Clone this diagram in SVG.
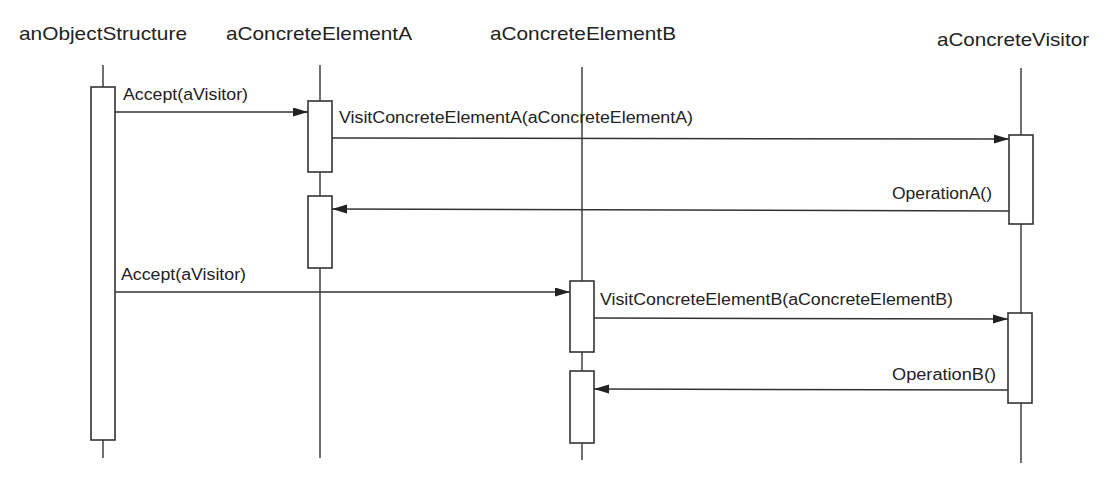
<svg xmlns="http://www.w3.org/2000/svg" width="1106" height="486" viewBox="0 0 1106 486">
<defs>
<style>
.title{font-family:"Liberation Sans",Arial,sans-serif;font-size:19px;fill:#222}
.lbl{font-family:"Liberation Sans",Arial,sans-serif;font-size:16px;fill:#222}
.life{stroke:#333;stroke-width:1.4;fill:none}
.act{stroke:#333;stroke-width:1.6;fill:#fff}
.msg{stroke:#333;stroke-width:1.5;fill:none;marker-end:url(#arr)}
</style>
<marker id="arr" markerUnits="userSpaceOnUse" markerWidth="16" markerHeight="10" refX="15" refY="4.5" orient="auto">
<path d="M0,0 L15,4.5 L0,9 z" fill="#222"/>
</marker>
</defs>
<rect width="1106" height="486" fill="#fff"/>
<g id="anObjectStructure">
<text class="title" x="19" y="40" textLength="168" lengthAdjust="spacingAndGlyphs">anObjectStructure</text>
<line class="life" x1="103" y1="65" x2="103" y2="458"/>
<rect class="act" x="91" y="87" width="24" height="353"/>
</g>
<g id="aConcreteElementA">
<text class="title" x="226" y="40" textLength="186" lengthAdjust="spacingAndGlyphs">aConcreteElementA</text>
<line class="life" x1="320" y1="65" x2="320" y2="458"/>
<rect class="act" x="308" y="101" width="24" height="71"/>
<rect class="act" x="308" y="196" width="24" height="72"/>
</g>
<g id="aConcreteElementB">
<text class="title" x="490" y="40" textLength="186" lengthAdjust="spacingAndGlyphs">aConcreteElementB</text>
<line class="life" x1="582" y1="67" x2="582" y2="460"/>
<rect class="act" x="570" y="281" width="24" height="71"/>
<rect class="act" x="570" y="371" width="24" height="72"/>
</g>
<g id="aConcreteVisitor">
<text class="title" x="937" y="46" textLength="152" lengthAdjust="spacingAndGlyphs">aConcreteVisitor</text>
<line class="life" x1="1021" y1="68" x2="1021" y2="463"/>
<rect class="act" x="1009" y="135" width="24" height="89"/>
<rect class="act" x="1008" y="313" width="24" height="90"/>
</g>
<g id="connectors">
<line class="msg" x1="115" y1="112" x2="308" y2="112"/>
<text class="lbl" x="123" y="100" textLength="125" lengthAdjust="spacingAndGlyphs">Accept(aVisitor)</text>
<line class="msg" x1="332" y1="138" x2="1009" y2="139"/>
<text class="lbl" x="339" y="123" textLength="354" lengthAdjust="spacingAndGlyphs">VisitConcreteElementA(aConcreteElementA)</text>
<line class="msg" x1="1009" y1="211" x2="332" y2="209"/>
<text class="lbl" x="892" y="199" textLength="100" lengthAdjust="spacingAndGlyphs">OperationA()</text>
<line class="msg" x1="115" y1="292" x2="570" y2="292"/>
<text class="lbl" x="121" y="280" textLength="125" lengthAdjust="spacingAndGlyphs">Accept(aVisitor)</text>
<line class="msg" x1="594" y1="318" x2="1008" y2="319"/>
<text class="lbl" x="600" y="305" textLength="353" lengthAdjust="spacingAndGlyphs">VisitConcreteElementB(aConcreteElementB)</text>
<line class="msg" x1="1008" y1="390" x2="594" y2="389"/>
<text class="lbl" x="892" y="380" textLength="104" lengthAdjust="spacingAndGlyphs">OperationB()</text>
</g>
</svg>
